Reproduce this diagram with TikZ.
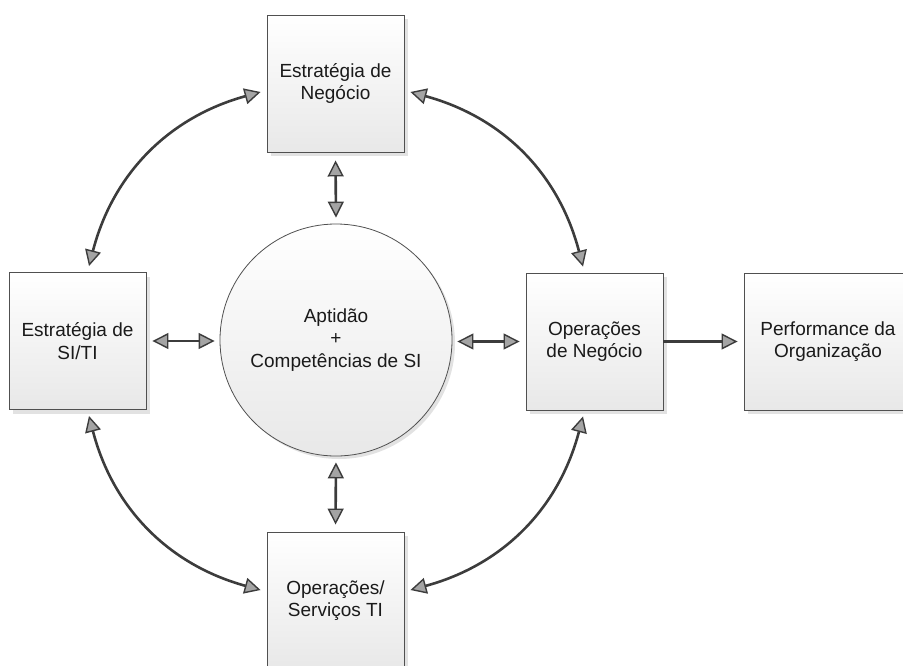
\documentclass[tikz,border=0pt]{standalone}
\usepackage{fontspec}
\setmainfont{Liberation Sans}
\usetikzlibrary{arrows.meta,shadows,calc}
\definecolor{edgec}{HTML}{505050}
\definecolor{linec}{HTML}{3C3C3C}
\definecolor{boxbot}{HTML}{E8E8E8}
\definecolor{txtc}{HTML}{1A1A1A}
\definecolor{tipc}{HTML}{A4A4A4}
\definecolor{shadc}{HTML}{E2E2E2}
\begin{document}
\begin{tikzpicture}[x=1pt,y=-1pt,
  box/.style={draw=edgec, line width=0.9pt, top color=white, bottom color=boxbot,
    minimum width=137pt, minimum height=137pt, inner sep=0pt, align=center,
    font=\fontsize{19}{22.5}\selectfont, text=txtc,
    drop shadow={shadow xshift=4pt, shadow yshift=-4pt, fill=shadc, opacity=1}},
  circ/.style={circle, draw=edgec, line width=0.8pt, top color=white, bottom color=boxbot,
    minimum size=232pt, inner sep=0pt, align=center,
    font=\fontsize{19}{22.5}\selectfont, text=txtc,
    drop shadow={shadow xshift=3pt, shadow yshift=-3pt, fill=shadc, opacity=1}},
  tipa/.tip={Triangle[length=16pt,width=16pt,fill=tipc,line width=1.4pt]},
  conn/.style={draw=linec, line width=2.6pt},
  dbl/.style={conn, tipa-tipa},
  sgl/.style={conn, -tipa}
]
\useasboundingbox (0,0) rectangle (903,665);
\node[box] (sn) at (335.5,83.5) {Estratégia de\\Negócio};
\node[box] (si) at (77.5,341) {Estratégia de\\SI/TI};
\node[box] (on) at (594.5,341.5) {Operações\\de Negócio};
\node[box, minimum width=168pt] (po) at (828,341.5) {Performance da\\Organização};
\node[box] (os) at (335.5,600.5) {Operações/\\Serviços TI};
\node[circ] (ap) at (336,340) {Aptidão\\+\\Competências de SI};

\draw[dbl, shorten <=8pt, shorten >=6pt] (sn.south) -- (ap.north);
\draw[dbl, shorten <=6pt, shorten >=7pt] (ap.south) -- (os.north);
\draw[dbl, shorten <=6pt, shorten >=5pt] (si.east) -- (si.east -| ap.west);
\draw[dbl, shorten <=5pt, shorten >=6pt] (on.west -| ap.east) -- (on.west);
\draw[sgl, shorten >=6pt] (on.east) -- (po.west);

\draw[dbl] ($(si.north)+(11.5,-6)$) to[bend left=30] ($(sn.west)+(-6,8.5)$);
\draw[dbl] ($(sn.east)+(6,8.5)$) to[bend left=30] ($(on.north)+(-11.5,-6)$);
\draw[dbl] ($(on.south)+(-11.5,6)$) to[bend left=30] ($(os.east)+(6,-10.5)$);
\draw[dbl] ($(os.west)+(-6,-10.5)$) to[bend left=30] ($(si.south)+(11.5,6)$);
\end{tikzpicture}
\end{document}
